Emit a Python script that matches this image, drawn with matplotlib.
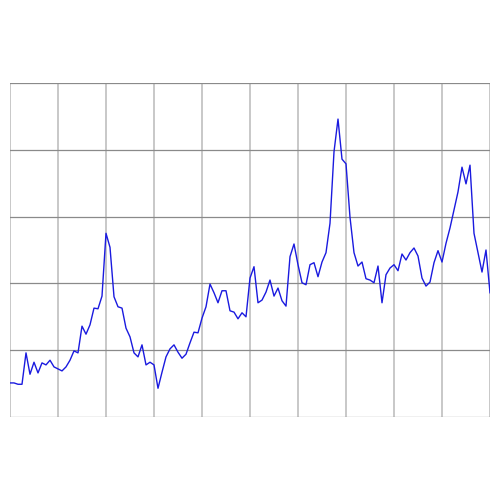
import matplotlib
matplotlib.use("Agg")
import matplotlib.pyplot as plt

values = [0.51, 0.51, 0.49, 0.49, 0.96, 0.64, 0.82, 0.66, 0.81, 0.78,
          0.85, 0.75, 0.72, 0.69, 0.75, 0.85, 0.99, 0.96, 1.36, 1.24,
          1.38, 1.63, 1.62, 1.81, 2.75, 2.54, 1.80, 1.65, 1.63, 1.33,
          1.20, 0.96, 0.90, 1.08, 0.78, 0.82, 0.78, 0.43, 0.67, 0.90,
          1.02, 1.08, 0.97, 0.88, 0.94, 1.11, 1.27, 1.26, 1.48, 1.65,
          1.99, 1.86, 1.71, 1.89, 1.89, 1.59, 1.57, 1.47, 1.56, 1.50,
          2.08, 2.25, 1.71, 1.75, 1.87, 2.05, 1.81, 1.93, 1.74, 1.66,
          2.40, 2.59, 2.28, 2.01, 1.98, 2.28, 2.31, 2.10, 2.32, 2.46,
          2.90, 3.97, 4.46, 3.86, 3.79, 2.99, 2.46, 2.26, 2.32, 2.07,
          2.05, 2.01, 2.26, 1.71, 2.13, 2.23, 2.28, 2.19, 2.44, 2.35,
          2.46, 2.53, 2.41, 2.08, 1.96, 2.02, 2.31, 2.49, 2.32, 2.60,
          2.83, 3.10, 3.37, 3.74, 3.49, 3.77, 2.75, 2.46, 2.17, 2.50,
          1.86]
x = list(range(len(values)))
x_ticks = list(range(0, 121, 12))
y_ticks = [0, 1, 2, 3, 4, 5]

fig = plt.figure(figsize=(5, 5), dpi=100)
ax = fig.add_axes([0.02, 0.166, 0.96, 0.668])
ax.plot(x, values, color="#1a1adf", linewidth=1.0, zorder=3)
ax.set_xlim(0, 120)
ax.set_ylim(0, 5)
ax.set_xticks(x_ticks)
ax.set_yticks(y_ticks)
ax.tick_params(length=0, labelbottom=False, labelleft=False)
for s in ax.spines.values():
    s.set_visible(False)
ax.xaxis.grid(True, color="#c4c4c4", linewidth=1.3)
ax.yaxis.grid(True, color="#8a8a8a", linewidth=0.9)
ax.set_axisbelow(True)
fig.savefig("out.png", dpi=100)
